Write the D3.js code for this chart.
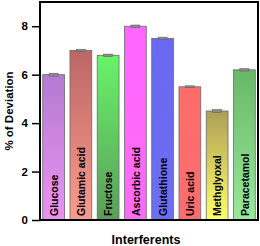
<!DOCTYPE html>
<html>
<head>
<meta charset="utf-8">
<script src="https://cdn.jsdelivr.net/npm/d3@7"></script>
<style>
  body { margin: 0; background: #fff; }
  svg text { font-family: "Liberation Sans", Arial, sans-serif; font-weight: bold; }
</style>
</head>
<body>
<svg id="chart" width="260" height="246"></svg>
<script>
const categories = ['Glucose', 'Glutamic acid', 'Fructose', 'Ascorbic acid', 'Glutathione', 'Uric acid', 'Methglyoxal', 'Paracetamol'];
const deviation = [6.0, 7.0, 6.8, 8.0, 7.5, 5.5, 4.5, 6.2];
const errors = [0.06, 0.05, 0.05, 0.05, 0.05, 0.04, 0.06, 0.05];
const yTicks = [0, 2, 4, 6, 8];

// top / bottom colour of each bar gradient
const palette = [
  ['#b37ad3', '#ec92f2'],
  ['#bd6666', '#f99c8c'],
  ['#68f468', '#5c9c5c'],
  ['#ff66ff', '#ff6cf6'],
  ['#6868f2', '#6e6ef0'],
  ['#ff6b6b', '#fb6e6e'],
  ['#ad9f58', '#ffff66'],
  ['#68b868', '#9ae89a']
];

const svg = d3.select('#chart');
const margin = {top: 2, right: 2, bottom: 26, left: 40};
const width = 260 - margin.left - margin.right;
const height = 246 - margin.top - margin.bottom;

const x = d3.scaleBand()
  .domain(categories)
  .range([0, width])
  .paddingInner(0.2)
  .paddingOuter(0.1);

const y = d3.scaleLinear()
  .domain([0, 9])
  .range([height, 0]);

const defs = svg.append('defs');
palette.forEach((c, i) => {
  const g = defs.append('linearGradient')
    .attr('id', 'grad' + i)
    .attr('x1', 0).attr('y1', 0).attr('x2', 0).attr('y2', 1);
  g.append('stop').attr('offset', '0%').attr('stop-color', c[0]);
  g.append('stop').attr('offset', '100%').attr('stop-color', c[1]);
});

const g = svg.append('g')
  .attr('transform', `translate(${margin.left},${margin.top})`);

g.selectAll('rect.bar')
  .data(categories)
  .enter().append('rect')
  .attr('class', 'bar')
  .attr('x', d => x(d))
  .attr('y', (d, i) => y(deviation[i]))
  .attr('width', x.bandwidth())
  .attr('height', (d, i) => y(0) - y(deviation[i]))
  .attr('fill', (d, i) => `url(#grad${i})`)
  .attr('stroke', '#6a6a6a')
  .attr('stroke-width', 0.8);

// error bars
const err = g.selectAll('g.err')
  .data(categories)
  .enter().append('g')
  .attr('class', 'err');
err.append('rect')
  .attr('x', d => x(d) + x.bandwidth() / 2 - 4.5)
  .attr('y', (d, i) => y(deviation[i] + errors[i]))
  .attr('width', 9)
  .attr('height', (d, i) => Math.max(1.5, y(deviation[i] - errors[i]) - y(deviation[i] + errors[i])))
  .attr('fill', '#8a8a8a')
  .attr('stroke', '#555')
  .attr('stroke-width', 0.5);

// labels inside bars
g.selectAll('text.lab')
  .data(categories)
  .enter().append('text')
  .attr('class', 'lab')
  .attr('transform', d => `translate(${x(d) + x.bandwidth() / 2 + 0.5},${height - 4}) rotate(-90)`)
  .attr('dy', '0.36em')
  .attr('font-size', 10.5)
  .attr('fill', '#000')
  .text(d => d);

// y axis
const yAxis = g.append('g')
  .call(d3.axisLeft(y).tickValues(yTicks).tickSize(8).tickPadding(4).tickFormat(d3.format('d')));
yAxis.select('.domain').remove();
yAxis.selectAll('.tick line').attr('stroke', '#000').attr('stroke-width', 1.5);
yAxis.selectAll('.tick text').attr('font-size', 11.5).attr('fill', '#000')
  .style('font-family', '"Liberation Sans", Arial, sans-serif').style('font-weight', 'bold');

// frame
g.append('rect')
  .attr('x', 0).attr('y', 0)
  .attr('width', width).attr('height', height)
  .attr('fill', 'none')
  .attr('stroke', '#000')
  .attr('stroke-width', 2);

svg.append('text')
  .attr('transform', `translate(9,${margin.top + height / 2}) rotate(-90)`)
  .attr('text-anchor', 'middle')
  .attr('dy', '0.35em')
  .attr('font-size', 11.5)
  .text('% of Deviation');

svg.append('text')
  .attr('x', 146)
  .attr('y', 244)
  .attr('text-anchor', 'middle')
  .attr('font-size', 12.5)
  .text('Interferents');
</script>
</body>
</html>
